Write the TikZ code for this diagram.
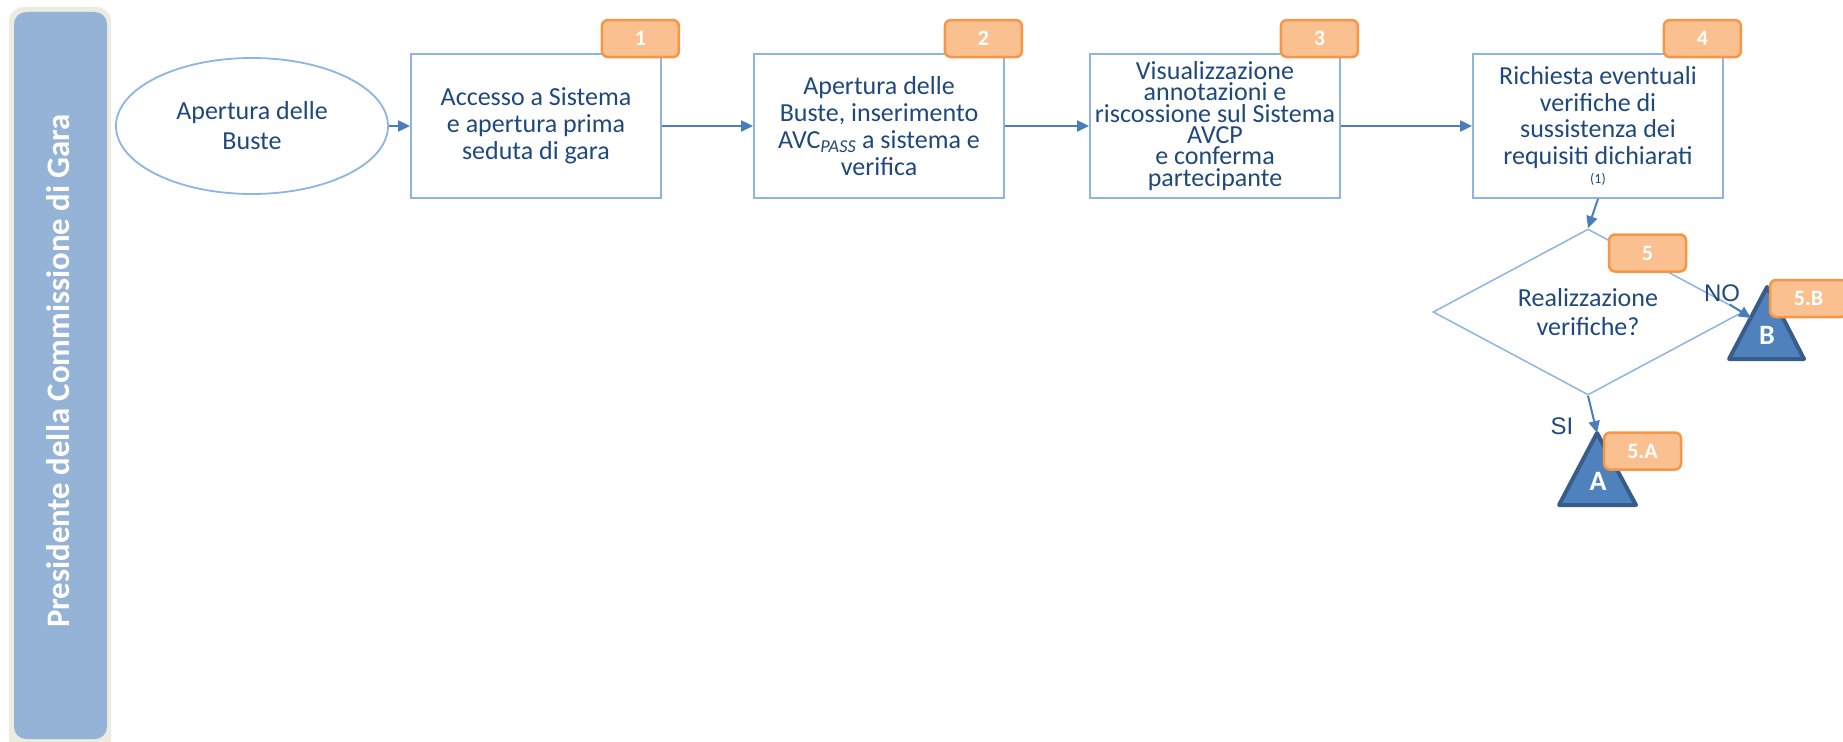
\documentclass[tikz,border=0pt]{standalone}
\usepackage{fontspec}
\setmainfont{Carlito}
\newfontfamily\arialf{Liberation Sans}
\usetikzlibrary{shapes.geometric,arrows.meta,calc}
\definecolor{txtblue}{HTML}{1F497D}
\definecolor{boxline}{HTML}{8DB4E2}
\definecolor{arrcol}{HTML}{4A7EBB}
\definecolor{badgefill}{HTML}{FAC090}
\definecolor{badgeline}{HTML}{F79646}
\definecolor{trifill}{HTML}{4F81BD}
\definecolor{triline}{HTML}{385D8A}
\definecolor{laneout}{HTML}{EEECE1}
\definecolor{lanein}{HTML}{95B3D7}
\newcommand{\myfs}[2]{\fontsize{#1}{#2}\selectfont}
\begin{document}
\begin{tikzpicture}[x=1pt,y=-1pt,
  stepbox/.style={rectangle, draw=boxline, fill=white, line width=1.8pt, minimum width=250pt, minimum height=144pt, inner sep=0pt, align=center, text=txtblue},
  badge/.style={rectangle, rounded corners=6pt, draw=badgeline, fill=badgefill, line width=2.5pt, minimum width=77pt, minimum height=37pt, inner sep=0pt, text=white, font=\bfseries\myfs{22}{24}},
  arr/.style={draw=arrcol, line width=2pt, -{Triangle[length=12pt,width=11pt]}},
  tri/.style={fill=trifill, draw=triline, line width=4pt, line join=round},
  triletter/.style={text=white, font=\bfseries\myfs{28}{30}, inner sep=0pt},
  lbl/.style={text=txtblue, font=\arialf\myfs{24}{26}, inner sep=0pt}
]
\useasboundingbox (0,0) rectangle (1843,741);
% swimlane
\fill[laneout, rounded corners=14pt] (9,7) rectangle (111,770);
\fill[lanein, rounded corners=12pt] (14,12) rectangle (107,739);
\node[rotate=90, text=white, font=\bfseries\myfs{32.8}{36}, inner sep=0pt] (lane) at (58,371) {Presidente della Commissione di Gara};
% start ellipse
\node[ellipse, draw=boxline, line width=1.8pt, minimum width=272pt, minimum height=136pt, inner sep=0pt, align=center, text=txtblue, font=\myfs{26}{30}] (ell) at (252,126) {Apertura delle\\Buste};
% boxes
\node[stepbox, font=\myfs{26}{27}] (b1) at (536,126) {Accesso a Sistema\\e apertura prima\\seduta di gara};
\node[stepbox, font=\myfs{26}{27}] (b2) at (879,126) {Apertura delle\\Buste, inserimento\\AVC\textsubscript{\textit{PASS}} a sistema e\\verifica};
\node[stepbox, font=\myfs{26}{21.3}] (b3) at (1215,126) {Visualizzazione\\annotazioni e\\riscossione sul Sistema\\AVCP\\e conferma\\partecipante};
\node[stepbox, font=\myfs{26}{26.5}] (b4) at (1598,126) {Richiesta eventuali\\verifiche di\\sussistenza dei\\requisiti dichiarati\\[-7pt]{\myfs{14}{16}(1)}};
% decision
\node[diamond, draw=boxline, fill=white, line width=1.5pt, aspect=1.87, minimum width=310pt, minimum height=166pt, inner sep=0pt, align=center, text=txtblue, font=\myfs{26}{29}] (dia) at (1588,312) {Realizzazione\\verifiche?};
% end triangles
\coordinate (Atop) at (1597,433);
\coordinate (Btip) at (1751,318);
\draw[tri] (1597,433) -- (1636,505) -- (1559,505) -- cycle;
\draw[tri] (1767,287) -- (1804,359) -- (1729,359) -- cycle;
\node[triletter] (triA) at (1598,481) {A};
\node[triletter] (triB) at (1767,335) {B};
% connectors
\draw[arr] (ell.east) -- (b1.west);
\draw[arr] (b1.east) -- (b2.west);
\draw[arr] (b2.east) -- (b3.west);
\draw[arr] (b3.east) -- (b4.west);
\draw[arr] (b4.south) -- (dia.north);
\draw[arr] (dia.south) -- (Atop);
\draw[arr] ($(dia.east)+(-14,-7.5)$) -- (Btip);
% labels
\node[lbl] (no) at (1722,293) {NO};
\node[lbl] (si) at (1562,426) {SI};
% badges
\node[badge] (n1) at ($(b1.north east)+(-21.5,-14.5)$) {1};
\node[badge] (n2) at ($(b2.north east)+(-21.5,-14.5)$) {2};
\node[badge] (n3) at ($(b3.north east)+(-21.5,-14.5)$) {3};
\node[badge] (n4) at ($(b4.north east)+(-21.5,-14.5)$) {4};
\node[badge] (n5) at (1647.5,253) {5};
\node[badge] (n5a) at (1642.5,451) {5.A};
\node[badge] (n5b) at (1808.5,298.5) {5.B};
\end{tikzpicture}
\end{document}
